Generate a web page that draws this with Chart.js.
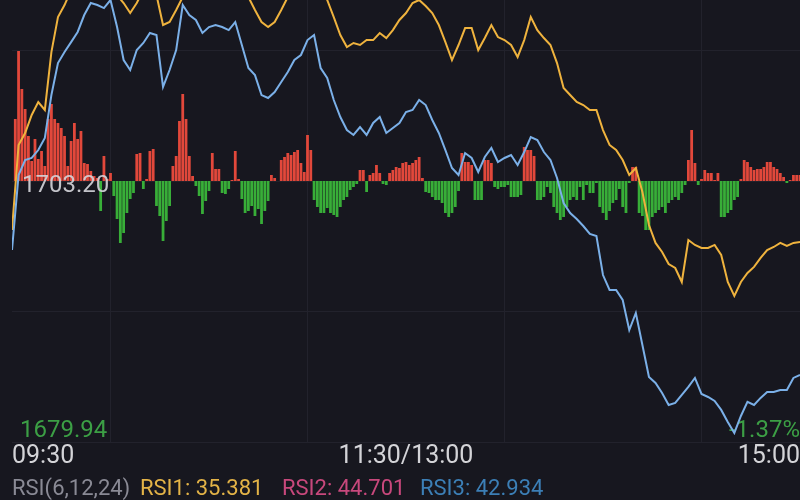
<!DOCTYPE html>
<html lang="zh-CN">
<head>
<meta charset="UTF-8">
<title>分时走势 RSI</title>
<script src="https://cdn.jsdelivr.net/npm/chart.js@4.4.1/dist/chart.umd.min.js"></script>
<style>
    html, body { margin: 0; padding: 0; background: #17171f; overflow: hidden; }
    #wrap { position: relative; width: 800px; height: 500px; overflow: hidden; background: #17171f; }
    /* 顶部被截掉一截，画布往上挪 */
    #chart { position: absolute; left: 0; top: -80px; }
    #rsi-bar { position: absolute; left: 0; top: 476px; width: 800px; height: 24px;
               font: 22px Roboto, "Noto Sans", sans-serif; white-space: nowrap; line-height: 24px; }
    #rsi-bar span { position: absolute; top: 0; }
</style>
</head>
<body>
<div id="wrap">
    <canvas id="chart" width="800" height="580"></canvas>
    <div id="rsi-bar"></div>
</div>
<script>
// 昨收与坐标上下限
const PREV_CLOSE = 1703.20;
const PRICE_MIN = 1679.94;
const PRICE_MAX = 1726.46;

// 时间轴（分钟）
const tickMinutes = [0, 60, 120, 180, 240];
const timeLabels = ['09:30', '', '11:30/13:00', '', '15:00'];
const LINE_STEP = 2; // 两条线每 2 分钟取一个点

// 蓝线
const priceLine = [
    1697.05, 1703.73, 1705.07, 1705.25, 1705.96, 1707.03, 1710.86, 1713.71, 1714.69, 1715.58,
    1716.48, 1717.99, 1719.06, 1718.88, 1718.61, 1719.33, 1716.92, 1713.98, 1713.09, 1714.87,
    1715.50, 1716.39, 1716.21, 1711.58, 1713.09, 1714.87, 1718.88, 1717.99, 1717.55, 1716.39,
    1716.92, 1717.10, 1716.92, 1716.65, 1717.37, 1715.32, 1713.27, 1712.64, 1710.86, 1710.60,
    1711.13, 1712.02, 1712.91, 1713.98, 1714.43, 1715.76, 1716.21, 1713.27, 1712.38, 1710.42,
    1708.90, 1707.74, 1707.30, 1708.01, 1707.30, 1708.37, 1708.90, 1707.48, 1707.92, 1708.37,
    1709.35, 1709.53, 1710.42, 1709.97, 1708.64, 1707.48, 1705.96, 1704.36, 1703.73, 1705.69,
    1705.25, 1704.00, 1705.34, 1706.14, 1704.89, 1705.25, 1705.52, 1704.63, 1705.78, 1707.12,
    1706.85, 1705.78, 1705.07, 1703.47, 1701.24, 1700.35, 1699.81, 1699.19, 1698.48, 1698.30,
    1694.82, 1693.49, 1693.49, 1692.60, 1689.92, 1691.44, 1688.59, 1685.74, 1685.20, 1684.31,
    1683.24, 1683.42, 1684.13, 1684.85, 1685.65, 1684.22, 1683.95, 1683.60, 1682.80, 1681.73,
    1680.75, 1682.26, 1683.51, 1683.24, 1683.87, 1684.40, 1684.40, 1684.58, 1684.58, 1685.65, 1685.91
];

// 黄线
const avgLine = [
    1698.83, 1706.41, 1707.48, 1709.08, 1710.24, 1709.53, 1714.69, 1717.81, 1718.88, 1720.22,
    1721.11, 1721.55, 1721.29, 1721.55, 1721.11, 1720.66, 1719.77, 1719.06, 1718.17, 1719.06,
    1720.22, 1720.40, 1719.77, 1717.10, 1717.37, 1718.44, 1719.59, 1720.66, 1721.11, 1721.55,
    1721.82, 1722.00, 1722.00, 1721.55, 1721.11, 1720.40, 1719.59, 1718.44, 1717.37, 1716.92,
    1717.37, 1718.44, 1719.59, 1720.40, 1720.93, 1721.29, 1721.11, 1720.22, 1719.33, 1717.81,
    1716.21, 1715.14, 1715.50, 1715.32, 1715.76, 1715.76, 1716.39, 1715.94, 1716.65, 1717.55,
    1718.17, 1719.06, 1719.33, 1718.79, 1718.17, 1717.10, 1715.58, 1713.98, 1715.32, 1716.83,
    1716.83, 1714.87, 1715.94, 1717.10, 1716.03, 1715.76, 1715.32, 1714.25, 1715.76, 1717.81,
    1716.65, 1715.94, 1715.32, 1713.71, 1711.49, 1710.86, 1710.24, 1709.97, 1709.53, 1709.53,
    1707.74, 1706.41, 1705.96, 1705.07, 1703.73, 1704.36, 1702.22, 1699.28, 1697.68, 1696.87,
    1695.80, 1695.45, 1694.20, 1697.94, 1697.50, 1697.23, 1697.23, 1697.50, 1696.61, 1694.20,
    1692.95, 1694.20, 1695.00, 1695.54, 1696.34, 1697.05, 1697.32, 1697.68, 1697.41, 1697.68, 1697.76
];

// 红绿柱（每分钟一根，第 1~240 分钟）
const barValues = [
    62, 130, 92, 72, 45, 20, 42, 22, 30, 15,
    62, 77, 62, 58, 53, 45, 15, 40, 58, 42,
    50, 18, 17, 10, 5, 3, -30, 25, 2, 8,
    -15, -38, -62, -52, -32, -18, -12, 27, 28, -8,
    2, 30, 32, -25, -35, -60, -40, -25, 15, 25,
    60, 87, 62, 25, 5, -5, -15, -33, -20, -10,
    28, 12, 12, -12, -13, -8, 1, 30, 2, -18,
    -32, -30, -25, -35, -28, -43, -30, -20, 6, 3,
    0, 21, 24, 28, 26, 29, 31, 18, 9, 46,
    31, -19, -26, -32, -32, -27, -32, -34, -36, -26,
    -19, -16, -9, -6, -3, 11, 11, -11, 6, 8,
    16, 8, -3, -4, 8, 11, 14, 13, 18, 19,
    16, 18, 21, 24, 3, -11, -12, -16, -19, -19,
    -22, -32, -36, -32, -26, -10, 28, 19, 19, 16,
    -19, -19, -19, 21, 21, 18, -6, -8, -6, -6,
    -4, -16, -16, -16, -14, 34, 31, 31, 25, -19,
    -19, -16, -6, -12, -26, -32, -39, -36, -26, -19,
    -16, -19, -6, -19, -4, -12, -12, -2, -26, -32,
    -39, -30, -22, -19, -8, -26, -32, -2, 14, 14,
    -32, -35, -49, -49, -36, -32, -29, -26, -32, -22,
    -19, -16, -19, -12, -4, 21, 51, 18, -4, 2,
    11, 8, 8, 1, 8, -36, -36, -32, -29, -19,
    -16, 2, 21, 19, 14, 11, 12, 12, 14, 19,
    19, 14, 12, 8, 4, -2, 1, 6, 6, 6
];
const BAR_RANGE = 261;

// RSI 指标
const rsiTitle = 'RSI(6,12,24)';
const rsiNames = ['RSI1', 'RSI2', 'RSI3'];
const rsiValues = [35.381, 44.701, 42.934];
const rsiColors = ['#e3b347', '#c8487c', '#3c7fb6'];
const rsiLeft = [12, 140, 282, 420];

const COLORS = {
    blue: '#7bb0e8',
    yellow: '#efb33e',
    red: '#e2483b',
    green: '#38ae38',
    grid: '#22222c',
    axis: '#4a4a55',
    text: '#d4d4d8',
    down: '#3c9f45'
};

const FONT = 'Roboto, "Noto Sans", sans-serif';

// 价格标签：画在柱子之后、线之前
const priceLabels = {
    id: 'priceLabels',
    afterDatasetDraw(chart, args) {
        if (args.index !== 2) return;
        const { ctx, chartArea, scales } = chart;
        const pct = (PRICE_MIN - PREV_CLOSE) / PREV_CLOSE * 100;
        ctx.save();
        ctx.font = `24px ${FONT}`;
        ctx.textAlign = 'left';
        ctx.textBaseline = 'middle';
        ctx.fillStyle = 'rgba(214,214,220,0.9)';
        ctx.fillText(PREV_CLOSE.toFixed(2), chartArea.left + 10, scales.y.getPixelForValue(PREV_CLOSE) + 5);
        ctx.textBaseline = 'alphabetic';
        ctx.fillStyle = COLORS.down;
        ctx.fillText(PRICE_MIN.toFixed(2), chartArea.left + 8, chartArea.bottom - 5);
        ctx.textAlign = 'right';
        ctx.fillText(pct.toFixed(2) + '%', chartArea.right, chartArea.bottom - 5);
        ctx.restore();
    }
};

const toPoints = arr => arr.map((v, i) => ({ x: i * LINE_STEP, y: v }));

new Chart(document.getElementById('chart'), {
    data: {
        datasets: [
            {
                type: 'line',
                data: toPoints(priceLine),
                borderColor: COLORS.blue,
                borderWidth: 2,
                pointRadius: 0,
                tension: 0,
                yAxisID: 'y',
                order: 0
            },
            {
                type: 'line',
                data: toPoints(avgLine),
                borderColor: COLORS.yellow,
                borderWidth: 2,
                pointRadius: 0,
                tension: 0,
                yAxisID: 'y',
                order: 0
            },
            {
                type: 'bar',
                data: barValues.map((v, i) => ({ x: i + 1, y: v })),
                backgroundColor: ctx => (ctx.raw && ctx.raw.y < 0 ? COLORS.green : COLORS.red),
                borderWidth: 0,
                barPercentage: 0.85,
                categoryPercentage: 1,
                yAxisID: 'yv',
                order: 1
            }
        ]
    },
    options: {
        responsive: false,
        animation: false,
        events: [],
        layout: { padding: { left: 12, right: 0, top: 0, bottom: 28 } },
        plugins: {
            legend: { display: false },
            tooltip: { enabled: false }
        },
        scales: {
            x: {
                type: 'linear',
                min: 0,
                max: 240,
                offset: false,
                afterBuildTicks: scale => { scale.ticks = tickMinutes.map(v => ({ value: v })); },
                grid: {
                    color: ctx => (ctx.index === 0 ? COLORS.axis : COLORS.grid),
                    lineWidth: ctx => (ctx.index === 0 ? 1.5 : 1),
                    drawTicks: false
                },
                border: { display: false },
                ticks: {
                    autoSkip: false,
                    maxRotation: 0,
                    align: 'inner',
                    padding: 0,
                    color: COLORS.text,
                    font: { family: FONT, size: 25 },
                    callback: (v, i) => timeLabels[i]
                }
            },
            y: {
                min: PRICE_MIN,
                max: PRICE_MAX,
                afterBuildTicks: scale => {
                    const q = (PRICE_MAX - PRICE_MIN) / 4;
                    scale.ticks = [0, 1, 2, 3, 4].map(i => ({ value: PRICE_MIN + i * q }));
                },
                grid: { color: COLORS.grid, drawTicks: false },
                border: { display: false },
                ticks: { display: false }
            },
            yv: {
                display: false,
                min: -BAR_RANGE,
                max: BAR_RANGE
            }
        }
    },
    plugins: [priceLabels]
});

// 底部 RSI 指标栏
const rsiBar = document.getElementById('rsi-bar');
const rsiTexts = [rsiTitle].concat(rsiNames.map((n, i) => `${n}: ${rsiValues[i].toFixed(3)}`));
const rsiTextColors = ['#8a8a95'].concat(rsiColors);
rsiBar.innerHTML = rsiTexts.map((t, i) =>
    `<span style="left:${rsiLeft[i]}px;color:${rsiTextColors[i]}">${t}</span>`
).join('');
</script>
</body>
</html>
